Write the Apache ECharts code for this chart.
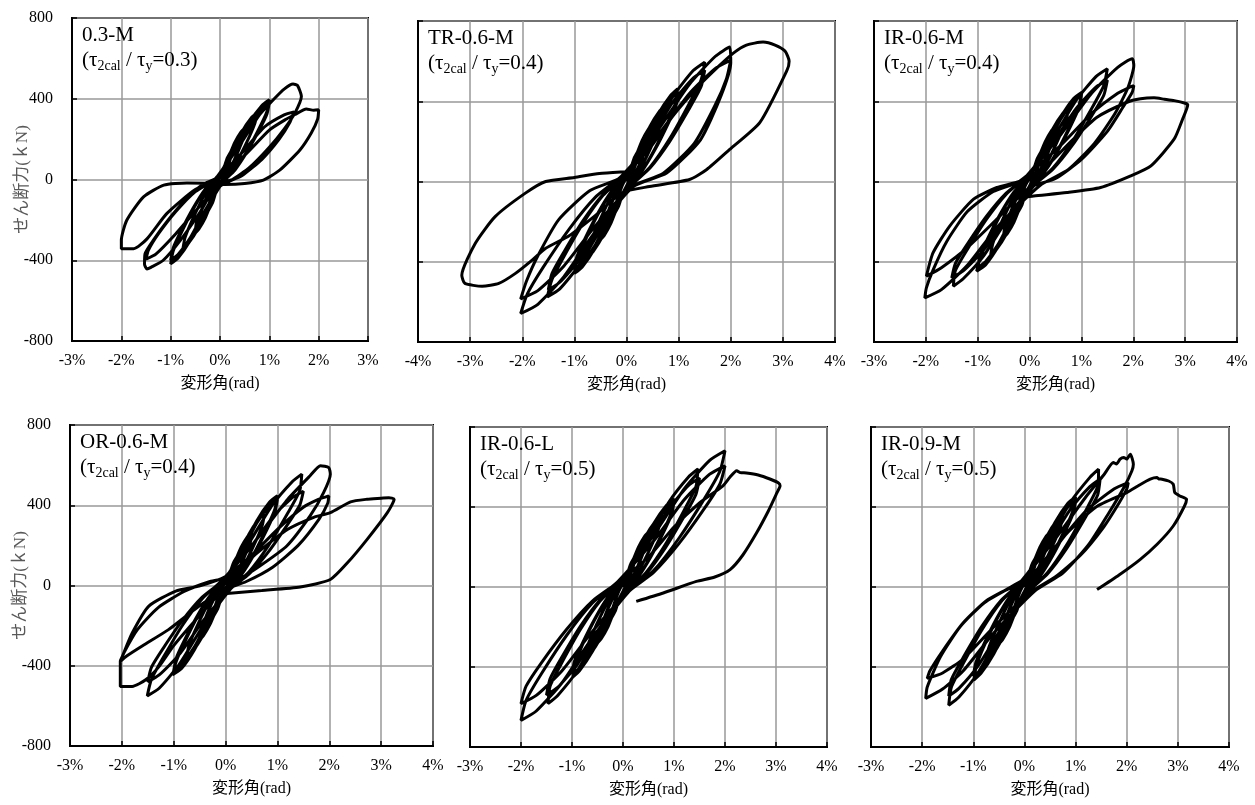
<!DOCTYPE html>
<html>
<head>
<meta charset="utf-8">
<script src="https://cdn.jsdelivr.net/npm/echarts@6/dist/echarts.min.js"></script>
<style>
  html, body { margin: 0; padding: 0; background: #fff; }
  #chart { width: 1255px; height: 805px; }
</style>
</head>
<body>
<div id="chart"></div>
<script>
'use strict';

// specimen names and shear ratio labels
const names = ['0.3-M', 'TR-0.6-M', 'IR-0.6-M', 'OR-0.6-M', 'IR-0.6-L', 'IR-0.9-M'];
const ratios = ['0.3', '0.4', '0.4', '0.4', '0.5', '0.5'];

// drift angle axis limits (%)
const xMins = [-3, -4, -3, -3, -3, -3];
const xMaxs = [3, 4, 4, 4, 4, 4];

// shear force axis (kN)
const yMin = -800;
const yMax = 800;
const yStep = 400;

// [drift %, shear kN] traced from the hysteresis loops
const p1 = [
  [0,0],
  [0.08,57],[0.15,108],[0.25,150],[0.2,98],[0.08,18],[-0.08,-61],[-0.15,-115],[-0.25,-160],[-0.2,-104],[-0.08,-19],
  [0.08,55],[0.15,104],[0.25,145],[0.2,94],[0.08,17],[-0.08,-59],[-0.15,-112],[-0.25,-155],[-0.2,-101],[-0.08,-19],
  [0.15,97],[0.3,184],[0.43,237],[0.5,255],[0.48,217],[0.4,166],[0.28,92],[0.15,31],[0.03,-10],
  [-0.15,-101],[-0.3,-191],[-0.43,-246],[-0.5,-265],[-0.48,-225],[-0.4,-172],[-0.28,-95],[-0.15,-32],[-0.03,11],
  [0.15,93],[0.3,176],[0.43,228],[0.5,245],[0.48,208],[0.4,159],[0.28,88],[0.15,29],[0.03,-10],
  [-0.15,-97],[-0.3,-184],[-0.43,-237],[-0.5,-255],[-0.48,-217],[-0.4,-166],[-0.28,-92],[-0.15,-31],[-0.03,10],
  [0.23,125],[0.45,238],[0.64,307],[0.75,330],[0.71,281],[0.6,215],[0.41,119],[0.23,40],[0.04,-13],
  [-0.23,-129],[-0.45,-245],[-0.64,-316],[-0.75,-340],[-0.71,-289],[-0.6,-221],[-0.41,-122],[-0.23,-41],[-0.04,14],
  [0.3,150],[0.6,284],[0.85,367],[1.0,395],[0.95,336],[0.8,257],[0.55,142],[0.3,47],[0.05,-16],
  [-0.3,-159],[-0.6,-301],[-0.85,-389],[-1.0,-418],[-0.95,-355],[-0.8,-272],[-0.55,-150],[-0.3,-50],[-0.05,17],
  [0.3,144],[0.6,274],[0.85,353],[1.0,380],[0.95,323],[0.8,247],[0.55,137],[0.3,46],[0.05,-15],
  [-0.3,-152],[-0.6,-288],[-0.85,-372],[-1.0,-400],[-0.95,-340],[-0.8,-260],[-0.55,-144],[-0.3,-48],[-0.05,16],
  [0.4,170],[0.8,320],[1.1,400],[1.3,448],[1.48,473],[1.57,466],[1.65,412],[1.52,330],[1.3,250],[1.0,160],[0.6,60],[0.25,0],[-0.05,-20],
  [-0.4,-160],[-0.8,-300],[-1.15,-400],[-1.4,-435],[-1.48,-443],[-1.53,-420],[-1.52,-368],[-1.35,-300],[-1.05,-200],[-0.7,-100],[-0.35,-25],[-0.05,10],
  [0.4,120],[0.9,260],[1.3,320],[1.5,335],[1.42,285],[1.2,200],[0.85,100],[0.45,20],[0.05,-25],
  [-0.4,-130],[-0.9,-270],[-1.3,-370],[-1.5,-395],[-1.45,-350],[-1.25,-270],[-0.9,-160],[-0.5,-60],[-0.1,0],
  [0.5,120],[1.0,245],[1.35,300],[1.52,322],[1.75,349],[1.9,343],[2.0,345],[1.98,300],[1.85,230],[1.62,146],[1.21,46],[0.88,-3],[0.5,-20],[0.1,-25],
  [-0.3,-18],[-0.67,-17],[-1.14,-28],[-1.55,-86],[-1.89,-202],[-2.0,-302],[-2.0,-343],[-1.75,-343],[-1.48,-294],[-1.08,-169],[-0.5,-50],[0,0]
];

const p2 = [
  [0,0],
  [0.08,63],[0.15,119],[0.25,165],[0.2,107],[0.08,20],[-0.08,-65],[-0.15,-122],[-0.25,-170],[-0.2,-111],[-0.08,-20],
  [0.08,61],[0.15,115],[0.25,160],[0.2,104],[0.08,19],[-0.08,-63],[-0.15,-119],[-0.25,-165],[-0.2,-107],[-0.08,-20],
  [0.15,108],[0.3,205],[0.43,265],[0.5,285],[0.48,242],[0.4,185],[0.28,103],[0.15,34],[0.03,-11],
  [-0.15,-110],[-0.3,-209],[-0.43,-270],[-0.5,-290],[-0.48,-247],[-0.4,-189],[-0.28,-104],[-0.15,-35],[-0.03,12],
  [0.15,105],[0.3,198],[0.43,256],[0.5,275],[0.48,234],[0.4,179],[0.28,99],[0.15,33],[0.03,-11],
  [-0.15,-106],[-0.3,-202],[-0.43,-260],[-0.5,-280],[-0.48,-238],[-0.4,-182],[-0.28,-101],[-0.15,-34],[-0.03,11],
  [0.23,144],[0.45,274],[0.64,353],[0.75,380],[0.71,323],[0.6,247],[0.41,137],[0.23,46],[0.04,-15],
  [-0.23,-143],[-0.45,-270],[-0.64,-349],[-0.75,-375],[-0.71,-319],[-0.6,-244],[-0.41,-135],[-0.23,-45],[-0.04,15],
  [0.3,176],[0.6,333],[0.85,430],[0.98,462],[0.94,393],[0.8,300],[0.55,166],[0.3,55],[0.05,-18],
  [-0.3,-174],[-0.6,-330],[-0.85,-426],[-1.0,-458],[-0.95,-389],[-0.8,-298],[-0.55,-165],[-0.3,-55],[-0.05,18],
  [0.3,169],[0.6,320],[0.85,414],[1.0,445],[0.95,378],[0.8,289],[0.55,160],[0.3,53],[0.05,-18],
  [-0.3,-167],[-0.6,-317],[-0.85,-409],[-1.0,-440],[-0.95,-374],[-0.8,-286],[-0.55,-158],[-0.3,-53],[-0.05,18],
  [0.45,226],[0.9,428],[1.28,553],[1.5,595],[1.43,506],[1.2,387],[0.83,214],[0.45,71],[0.08,-24],
  [-0.45,-219],[-0.9,-414],[-1.28,-535],[-1.52,-575],[-1.43,-489],[-1.2,-374],[-0.83,-207],[-0.45,-69],[-0.08,23],
  [0.45,211],[0.9,400],[1.28,516],[1.5,555],[1.43,472],[1.2,361],[0.83,200],[0.45,67],[0.08,-22],
  [-0.45,-205],[-0.9,-389],[-1.28,-502],[-1.5,-540],[-1.43,-459],[-1.2,-351],[-0.83,-194],[-0.45,-65],[-0.08,22],
  [0.6,255],[1.2,482],[1.7,623],[1.98,670],[2.0,592],[1.81,425],[1.42,208],[0.77,42],[0.13,-25],
  [-0.6,-250],[-1.2,-474],[-1.7,-612],[-2.03,-658],[-1.9,-559],[-1.6,-428],[-1.1,-237],[-0.6,-79],[-0.1,26],
  [0.6,230],[1.2,436],[1.7,563],[2.0,605],[1.92,514],[1.7,380],[1.3,190],[0.7,40],[0.1,-25],
  [-0.6,-222],[-1.2,-421],[-1.7,-544],[-2.03,-585],[-1.92,-497],[-1.7,-370],[-1.3,-190],[-0.7,-45],[-0.1,20],
  [0.4,150],[0.9,330],[1.4,480],[1.75,570],[2.05,640],[2.3,680],[2.62,695],[2.85,680],[3.04,650],[3.12,600],[3.08,555],[2.56,295],[1.98,160],[1.54,60],[1.21,10],[0.44,-25],[-0.08,-55],
  [-0.6,-170],[-1.1,-270],[-1.55,-333],[-1.81,-392],[-2.13,-458],[-2.45,-508],[-2.77,-522],[-3.1,-508],[-3.16,-467],[-2.9,-308],[-2.52,-175],[-1.94,-58],[-1.55,0],[-1.0,20],[-0.52,40],[0.05,50],[0.3,55]
];

const p3 = [
  [0,0],
  [0.08,61],[0.15,115],[0.25,160],[0.2,104],[0.08,19],[-0.08,-63],[-0.15,-119],[-0.25,-165],[-0.2,-107],[-0.08,-20],
  [0.08,59],[0.15,112],[0.25,155],[0.2,101],[0.08,19],[-0.08,-61],[-0.15,-115],[-0.25,-160],[-0.2,-104],[-0.08,-19],
  [0.15,105],[0.3,198],[0.43,256],[0.5,275],[0.48,234],[0.4,179],[0.28,99],[0.15,33],[0.03,-11],
  [-0.15,-106],[-0.3,-202],[-0.43,-260],[-0.5,-280],[-0.48,-238],[-0.4,-182],[-0.28,-101],[-0.15,-34],[-0.03,11],
  [0.15,101],[0.3,191],[0.43,246],[0.5,265],[0.48,225],[0.4,172],[0.28,95],[0.15,32],[0.03,-11],
  [-0.15,-103],[-0.3,-194],[-0.43,-251],[-0.5,-270],[-0.48,-230],[-0.4,-176],[-0.28,-97],[-0.15,-32],[-0.03,11],
  [0.23,139],[0.45,263],[0.64,339],[0.75,365],[0.71,310],[0.6,237],[0.41,131],[0.23,44],[0.04,-15],
  [-0.23,-139],[-0.45,-263],[-0.64,-339],[-0.75,-365],[-0.71,-310],[-0.6,-237],[-0.41,-131],[-0.23,-44],[-0.04,15],
  [0.3,169],[0.6,320],[0.85,414],[1.01,445],[0.95,378],[0.8,289],[0.55,160],[0.3,53],[0.05,-18],
  [-0.3,-170],[-0.6,-322],[-0.85,-416],[-1.02,-447],[-0.95,-380],[-0.8,-291],[-0.55,-161],[-0.3,-54],[-0.05,18],
  [0.3,163],[0.6,310],[0.85,400],[1.0,430],[0.95,366],[0.8,280],[0.55,155],[0.3,52],[0.05,-17],
  [-0.3,-163],[-0.6,-310],[-0.85,-400],[-1.0,-430],[-0.95,-366],[-0.8,-280],[-0.55,-155],[-0.3,-52],[-0.05,17],
  [0.45,214],[0.9,405],[1.28,523],[1.5,562],[1.43,478],[1.2,365],[0.83,202],[0.45,67],[0.08,-22],
  [-0.45,-198],[-0.9,-376],[-1.28,-485],[-1.47,-522],[-1.43,-444],[-1.2,-339],[-0.83,-188],[-0.45,-63],[-0.08,21],
  [0.45,192],[0.9,364],[1.28,470],[1.5,505],[1.43,429],[1.2,328],[0.83,182],[0.45,61],[0.08,-20],
  [-0.45,-182],[-0.9,-346],[-1.28,-446],[-1.5,-480],[-1.43,-408],[-1.2,-312],[-0.83,-173],[-0.45,-58],[-0.08,19],
  [0.6,233],[1.2,441],[1.7,569],[1.98,612],[2.01,578],[1.9,470],[1.65,340],[1.25,190],[0.75,60],[0.2,-20],
  [-0.6,-220],[-1.2,-418],[-1.7,-539],[-2.02,-580],[-1.99,-530],[-1.86,-440],[-1.6,-300],[-1.2,-150],[-0.7,-50],[-0.2,0],
  [0.6,180],[1.2,340],[1.7,440],[1.93,470],[2.01,478],[1.98,445],[1.8,370],[1.5,250],[1.0,110],[0.5,15],[0,-30],
  [-0.6,-180],[-1.2,-330],[-1.7,-430],[-1.99,-472],[-1.86,-355],[-1.54,-222],[-1.08,-88],[-0.63,-30],[-0.2,0],
  [0.3,70],[0.8,200],[1.3,320],[1.88,395],[2.14,412],[2.4,417],[2.6,410],[2.79,403],[3.0,390],[3.05,382],[2.95,310],[2.79,212],[2.34,78],[1.95,28],[1.37,-30],[0.72,-55],[0.08,-72],[-0.15,-80]
];

const p4 = [
  [0,0],
  [0.08,59],[0.15,112],[0.25,155],[0.2,101],[0.08,19],[-0.08,-61],[-0.15,-115],[-0.25,-160],[-0.2,-104],[-0.08,-19],
  [0.08,57],[0.15,108],[0.25,150],[0.2,98],[0.08,18],[-0.08,-59],[-0.15,-112],[-0.25,-155],[-0.2,-101],[-0.08,-19],
  [0.15,101],[0.3,191],[0.43,246],[0.5,265],[0.48,225],[0.4,172],[0.28,95],[0.15,32],[0.03,-11],
  [-0.15,-103],[-0.3,-194],[-0.43,-251],[-0.5,-270],[-0.48,-230],[-0.4,-176],[-0.28,-97],[-0.15,-32],[-0.03,11],
  [0.15,97],[0.3,184],[0.43,237],[0.5,255],[0.48,217],[0.4,166],[0.28,92],[0.15,31],[0.03,-10],
  [-0.15,-99],[-0.3,-187],[-0.43,-242],[-0.5,-260],[-0.48,-221],[-0.4,-169],[-0.28,-94],[-0.15,-31],[-0.03,10],
  [0.23,135],[0.45,256],[0.64,330],[0.75,355],[0.71,302],[0.6,231],[0.41,128],[0.23,43],[0.04,-14],
  [-0.23,-135],[-0.45,-256],[-0.64,-330],[-0.75,-355],[-0.71,-302],[-0.6,-231],[-0.41,-128],[-0.23,-43],[-0.04,14],
  [0.3,170],[0.6,322],[0.85,416],[1.0,447],[0.95,380],[0.8,291],[0.55,161],[0.3,54],[0.05,-18],
  [-0.3,-169],[-0.6,-320],[-0.85,-414],[-1.02,-445],[-0.95,-378],[-0.8,-289],[-0.55,-160],[-0.3,-53],[-0.05,18],
  [0.3,163],[0.6,310],[0.85,400],[1.0,430],[0.95,366],[0.8,280],[0.55,155],[0.3,52],[0.05,-17],
  [-0.3,-162],[-0.6,-306],[-0.85,-395],[-1.0,-425],[-0.95,-361],[-0.8,-276],[-0.55,-153],[-0.3,-51],[-0.05,17],
  [0.45,211],[0.9,400],[1.28,516],[1.47,555],[1.43,472],[1.2,361],[0.83,200],[0.45,67],[0.08,-22],
  [-0.45,-209],[-0.9,-396],[-1.28,-512],[-1.51,-550],[-1.43,-468],[-1.2,-358],[-0.83,-198],[-0.45,-66],[-0.08,22],
  [0.45,179],[0.9,338],[1.28,437],[1.5,470],[1.43,400],[1.2,306],[0.83,169],[0.45,56],[0.08,-19],
  [-0.45,-182],[-0.9,-346],[-1.28,-446],[-1.5,-480],[-1.43,-408],[-1.2,-312],[-0.83,-173],[-0.45,-58],[-0.08,19],
  [0.6,230],[1.2,430],[1.63,547],[1.83,597],[1.99,588],[2.02,555],[1.89,463],[1.63,347],[1.18,197],[0.66,97],[0.2,20],[0,-10],
  [-0.5,-150],[-1.0,-300],[-1.28,-403],[-1.54,-470],[-1.8,-503],[-2.03,-503],[-2.03,-440],[-2.03,-378],[-1.99,-353],[-1.8,-237],[-1.48,-103],[-0.96,-28],[-0.51,-3],[0,45],
  [0.5,150],[1.0,280],[1.5,390],[1.8,430],[1.99,447],[1.97,410],[1.8,330],[1.4,200],[0.9,90],[0.4,20],[-0.1,-30],
  [-0.6,-120],[-1.1,-220],[-1.6,-300],[-1.9,-350],[-2.03,-378],[-1.95,-330],[-1.7,-220],[-1.3,-110],[-0.8,-30],[-0.3,20],[0.1,45],
  [0.6,160],[1.2,280],[1.7,340],[2.02,363],[2.41,417],[2.73,430],[3.0,435],[3.15,438],[3.25,430],[3.12,363],[2.73,230],[2.35,113],[2.02,30],[1.44,-8],[0.7,-25],[0.14,-37],[-0.3,-50]
];

const p5 = [
  [0,0],
  [0.08,61],[0.15,115],[0.25,160],[0.2,104],[0.08,19],[-0.08,-63],[-0.15,-119],[-0.25,-165],[-0.2,-107],[-0.08,-20],
  [0.08,59],[0.15,112],[0.25,155],[0.2,101],[0.08,19],[-0.08,-61],[-0.15,-115],[-0.25,-160],[-0.2,-104],[-0.08,-19],
  [0.15,105],[0.3,198],[0.43,256],[0.5,275],[0.48,234],[0.4,179],[0.28,99],[0.15,33],[0.03,-11],
  [-0.15,-106],[-0.3,-202],[-0.43,-260],[-0.5,-280],[-0.48,-238],[-0.4,-182],[-0.28,-101],[-0.15,-34],[-0.03,11],
  [0.15,101],[0.3,191],[0.43,246],[0.5,265],[0.48,225],[0.4,172],[0.28,95],[0.15,32],[0.03,-11],
  [-0.15,-103],[-0.3,-194],[-0.43,-251],[-0.5,-270],[-0.48,-230],[-0.4,-176],[-0.28,-97],[-0.15,-32],[-0.03,11],
  [0.23,135],[0.45,256],[0.64,330],[0.75,355],[0.71,302],[0.6,231],[0.41,128],[0.23,43],[0.04,-14],
  [-0.23,-137],[-0.45,-259],[-0.64,-335],[-0.75,-360],[-0.71,-306],[-0.6,-234],[-0.41,-130],[-0.23,-43],[-0.04,14],
  [0.3,167],[0.6,316],[0.85,408],[1.01,439],[0.95,373],[0.8,285],[0.55,158],[0.3,53],[0.05,-18],
  [-0.3,-171],[-0.6,-323],[-0.85,-418],[-0.98,-449],[-0.93,-382],[-0.8,-292],[-0.55,-162],[-0.3,-54],[-0.05,18],
  [0.3,162],[0.6,306],[0.85,395],[1.0,425],[0.95,361],[0.8,276],[0.55,153],[0.3,51],[0.05,-17],
  [-0.3,-165],[-0.6,-313],[-0.85,-405],[-1.0,-435],[-0.95,-370],[-0.8,-283],[-0.55,-157],[-0.3,-52],[-0.05,17],
  [0.45,224],[0.9,425],[1.28,549],[1.47,590],[1.43,502],[1.2,384],[0.83,212],[0.45,71],[0.08,-24],
  [-0.45,-222],[-0.9,-420],[-1.28,-542],[-1.47,-583],[-1.43,-496],[-1.2,-379],[-0.83,-210],[-0.45,-70],[-0.08,23],
  [0.45,207],[0.9,392],[1.28,507],[1.5,545],[1.43,463],[1.2,354],[0.83,196],[0.45,65],[0.08,-22],
  [-0.45,-205],[-0.9,-389],[-1.28,-502],[-1.5,-540],[-1.43,-459],[-1.2,-351],[-0.83,-194],[-0.45,-65],[-0.08,22],
  [0.6,259],[1.2,490],[1.7,633],[2.0,681],[1.9,579],[1.6,443],[1.1,245],[0.6,82],[0.1,-27],
  [-0.6,-253],[-1.2,-480],[-1.7,-620],[-2.0,-667],[-1.9,-567],[-1.6,-434],[-1.1,-240],[-0.6,-80],[-0.1,27],
  [0.6,230],[1.2,436],[1.7,564],[2.0,606],[1.9,515],[1.6,394],[1.1,218],[0.6,73],[0.1,-24],
  [-0.6,-222],[-1.2,-420],[-1.7,-542],[-2.0,-583],[-1.9,-496],[-1.6,-379],[-1.1,-210],[-0.6,-70],[-0.1,23],
  [0.5,150],[1.0,300],[1.5,420],[1.96,506],[2.1,550],[2.23,581],[2.3,572],[2.42,570],[2.65,560],[2.88,540],[3.05,520],[3.08,506],[3.02,472],[2.85,380],[2.62,271],[2.35,160],[2.1,87],[1.8,50],[1.44,28],[0.79,-30],[0.26,-72]
];

const p6 = [
  [0,0],
  [0.08,61],[0.15,115],[0.25,160],[0.2,104],[0.08,19],[-0.08,-63],[-0.15,-119],[-0.25,-165],[-0.2,-107],[-0.08,-20],
  [0.08,59],[0.15,112],[0.25,155],[0.2,101],[0.08,19],[-0.08,-61],[-0.15,-115],[-0.25,-160],[-0.2,-104],[-0.08,-19],
  [0.15,105],[0.3,198],[0.43,256],[0.5,275],[0.48,234],[0.4,179],[0.28,99],[0.15,33],[0.03,-11],
  [-0.15,-108],[-0.3,-205],[-0.43,-265],[-0.5,-285],[-0.48,-242],[-0.4,-185],[-0.28,-103],[-0.15,-34],[-0.03,11],
  [0.15,101],[0.3,191],[0.43,246],[0.5,265],[0.48,225],[0.4,172],[0.28,95],[0.15,32],[0.03,-11],
  [-0.15,-105],[-0.3,-198],[-0.43,-256],[-0.5,-275],[-0.48,-234],[-0.4,-179],[-0.28,-99],[-0.15,-33],[-0.03,11],
  [0.23,137],[0.45,259],[0.64,335],[0.75,360],[0.71,306],[0.6,234],[0.41,130],[0.23,43],[0.04,-14],
  [-0.23,-141],[-0.45,-266],[-0.64,-344],[-0.75,-370],[-0.71,-315],[-0.6,-241],[-0.41,-133],[-0.23,-44],[-0.04,15],
  [0.3,171],[0.6,324],[0.85,419],[1.0,450],[0.95,383],[0.8,293],[0.55,162],[0.3,54],[0.05,-18],
  [-0.3,-177],[-0.6,-335],[-0.85,-432],[-0.99,-465],[-0.94,-395],[-0.8,-302],[-0.55,-167],[-0.3,-56],[-0.05,19],
  [0.3,163],[0.6,310],[0.85,400],[1.0,430],[0.95,366],[0.8,280],[0.55,155],[0.3,52],[0.05,-17],
  [-0.3,-169],[-0.6,-320],[-0.85,-414],[-1.0,-445],[-0.95,-378],[-0.8,-289],[-0.55,-160],[-0.3,-53],[-0.05,18],
  [0.45,224],[0.9,424],[1.28,548],[1.45,589],[1.43,501],[1.2,383],[0.83,212],[0.45,71],[0.08,-24],
  [-0.45,-225],[-0.9,-426],[-1.28,-550],[-1.48,-591],[-1.43,-502],[-1.2,-384],[-0.83,-213],[-0.45,-71],[-0.08,24],
  [0.45,205],[0.9,389],[1.28,502],[1.48,540],[1.43,459],[1.2,351],[0.83,194],[0.45,65],[0.08,-22],
  [-0.45,-207],[-0.9,-392],[-1.28,-507],[-1.48,-545],[-1.43,-463],[-1.2,-354],[-0.83,-196],[-0.45,-65],[-0.08,22],
  [0.6,240],[1.2,450],[1.55,560],[1.74,622],[1.8,615],[1.87,639],[1.94,648],[2.0,640],[2.07,664],[2.13,614],[2.1,580],[1.95,500],[1.65,370],[1.25,210],[0.75,70],[0.2,-20],
  [-0.6,-230],[-1.2,-420],[-1.6,-510],[-1.93,-557],[-1.9,-500],[-1.64,-348],[-1.25,-197],[-0.79,-80],[-0.34,-13],[0,15],
  [0.6,200],[1.2,380],[1.75,490],[2.03,522],[2.0,490],[1.85,420],[1.55,300],[1.1,160],[0.6,50],[0.1,-30],
  [-0.6,-200],[-1.2,-360],[-1.6,-430],[-1.9,-457],[-1.85,-420],[-1.6,-320],[-1.2,-180],[-0.75,-70],[-0.3,-5],
  [0.3,90],[0.8,260],[1.4,400],[2.0,472],[2.25,510],[2.46,539],[2.59,547],[2.63,540],[2.69,539],[2.82,530],[2.91,514],[2.94,472],[3.04,455],[3.17,439],[3.13,405],[2.91,305],[2.6,215],[2.26,137],[1.85,60],[1.42,-13]
];

const loops = [p1, p2, p3, p4, p5, p6];

// plot boxes [left, top, width, height] in px
const boxes = [
  [72, 18, 296, 323], [418, 21, 417, 321], [874, 21, 363, 321],
  [70, 425, 363, 321], [470, 427, 357, 320], [871, 427, 358, 320]
];

const serif = '"Liberation Serif", "Times New Roman", "Noto Sans CJK JP", serif';

const grid = [], xAxis = [], yAxis = [], series = [], title = [];
boxes.forEach(function (b, i) {
  const leftCol = (i % 3 === 0);
  grid.push({
    left: b[0], top: b[1], width: b[2], height: b[3],
    show: true, borderColor: '#000', borderWidth: 2, backgroundColor: '#fff'
  });
  xAxis.push({
    type: 'value', gridIndex: i, min: xMins[i], max: xMaxs[i], interval: 1,
    axisLine: { show: true, onZero: false, lineStyle: { color: '#000', width: 2 } },
    axisTick: { show: true, inside: true, length: 5, lineStyle: { color: '#000', width: 1.5 } },
    axisLabel: {
      margin: 12, fontFamily: serif, fontSize: 16, color: '#000',
      formatter: function (v) { return v + '%'; }
    },
    splitLine: { show: true, lineStyle: { color: '#999', width: 1.5 } },
    name: '変形角(rad)', nameLocation: 'middle', nameGap: 35, nameMoveOverlap: false,
    nameTextStyle: { fontFamily: serif, fontSize: 16, color: '#000' }
  });
  yAxis.push({
    type: 'value', gridIndex: i, min: yMin, max: yMax, interval: yStep,
    axisLine: { show: true, onZero: false, lineStyle: { color: '#000', width: 2 } },
    axisTick: { show: true, inside: true, length: 5, lineStyle: { color: '#000', width: 1.5 } },
    axisLabel: { show: leftCol, margin: 19, fontFamily: serif, fontSize: 16, color: '#000' },
    splitLine: { show: true, lineStyle: { color: '#999', width: 1.5 } },
    name: leftCol ? 'せん断力(ｋN)' : '', nameLocation: 'middle', nameGap: 41, nameRotate: 90,
    nameMoveOverlap: false,
    nameTextStyle: { fontFamily: serif, fontSize: 17, color: '#595959' }
  });
  series.push({
    type: 'line', xAxisIndex: i, yAxisIndex: i, data: loops[i],
    showSymbol: false, smooth: 0.2, clip: true,
    lineStyle: { color: '#000', width: 3 }
  });
  title.push({
    left: b[0] + 10, top: b[1] + 5, padding: 0,
    text: '{n|' + names[i] + '}\n{n|(τ}{s|2cal}{n| / τ}{s|y}{n|=' + ratios[i] + ')}',
    textStyle: {
      fontWeight: 'normal',
      rich: {
        n: { fontFamily: serif, fontSize: 21, fontWeight: 'normal', lineHeight: 25, color: '#000' },
        s: { fontFamily: serif, fontSize: 14, fontWeight: 'normal', lineHeight: 14, padding: [11, 0, 0, 0], color: '#000' }
      }
    }
  });
});

const chart = echarts.init(document.getElementById('chart'), null, { renderer: 'canvas' });
chart.setOption({
  animation: false,
  backgroundColor: '#fff',
  title: title,
  grid: grid,
  xAxis: xAxis,
  yAxis: yAxis,
  series: series
});
</script>
</body>
</html>
